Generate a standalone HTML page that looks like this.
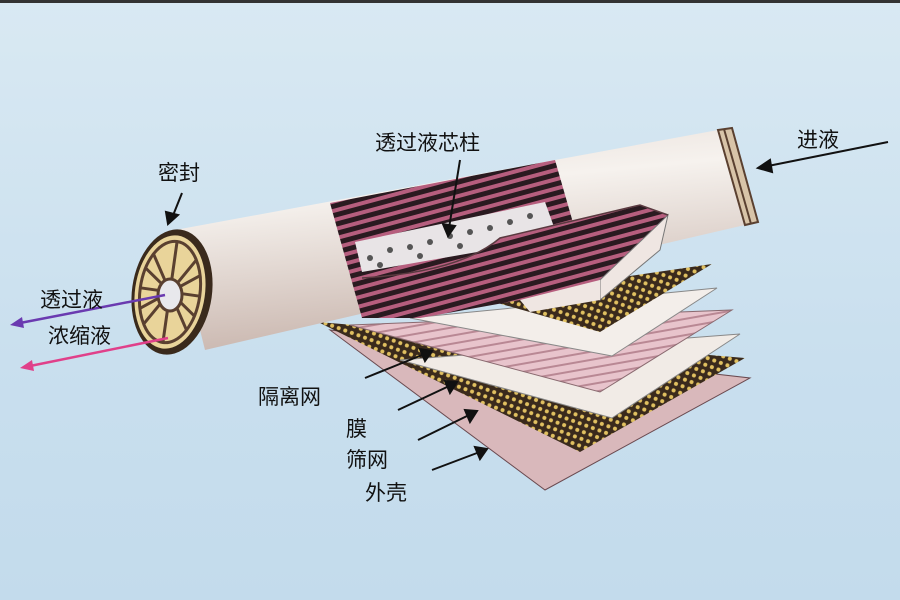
<!DOCTYPE html>
<html><head><meta charset="utf-8"><style>
html,body{margin:0;padding:0}
body{width:900px;height:600px;overflow:hidden;background:linear-gradient(#d9e9f3,#c9dfee 60%,#c3dbec);}
svg{position:absolute;left:0;top:0}
text{font-family:"Liberation Sans","Noto Sans CJK SC",sans-serif;font-size:21px;fill:#111}
</style></head><body>
<svg width="900" height="600" viewBox="0 0 900 600">
<defs>
<pattern id="mesh" width="7" height="7" patternUnits="userSpaceOnUse" patternTransform="rotate(20)">
<rect width="7" height="7" fill="#3a2a1c"/><circle cx="3.5" cy="3.5" r="2" fill="#e0c060"/></pattern>
<pattern id="pstripe" width="8" height="8" patternUnits="userSpaceOnUse" patternTransform="rotate(-10)">
<rect width="8" height="8" fill="#e8c4cc"/><rect width="8" height="2" fill="#b98894"/></pattern>
<pattern id="dstripe" width="9" height="9" patternUnits="userSpaceOnUse" patternTransform="rotate(-15)">
<rect width="9" height="9" fill="#2a1a20"/><rect width="9" height="4" fill="#b65e7e"/></pattern>
<linearGradient id="tube" x1="0" y1="0" x2="0.25" y2="1">
<stop offset="0" stop-color="#e6dcd6"/><stop offset="0.35" stop-color="#f6f2ee"/><stop offset="1" stop-color="#c9b6ae"/></linearGradient>
</defs>
<rect x="0" y="0" width="900" height="3" fill="#333"/>
<!-- sheets -->
<polygon points="330,330 750,378 545,490" fill="#d9b8bb" stroke="#6a4a50" stroke-width="1"/>
<polygon points="318,322 745,358 580,452" fill="url(#mesh)"/>
<polygon points="400,360 740,334 612,418" fill="#f1ebe6" stroke="#888" stroke-width="1"/>
<polygon points="350,325 732,310 600,392" fill="url(#pstripe)" stroke="#8a6a70" stroke-width="1"/>
<polygon points="410,318 717,288 612,356" fill="#f3eeea" stroke="#888" stroke-width="1"/>
<polygon points="480,298 712,264 600,332" fill="url(#mesh)"/>
<!-- cylinder body -->
<polygon points="175,230 718,130 745,225 205,350" fill="url(#tube)"/>
<!-- cut-away -->
<polygon points="330,203 555,160 578,240 362,318" fill="url(#dstripe)"/>
<polygon points="355,242 545,202 558,238 362,272" fill="#e8e4e6"/>
<g fill="#555"><circle cx="370" cy="258" r="3"/><circle cx="390" cy="250" r="3"/><circle cx="410" cy="247" r="3"/><circle cx="430" cy="242" r="3"/><circle cx="450" cy="236" r="3"/><circle cx="470" cy="232" r="3"/><circle cx="490" cy="228" r="3"/><circle cx="510" cy="222" r="3"/><circle cx="530" cy="216" r="3"/><circle cx="380" cy="265" r="3"/><circle cx="420" cy="256" r="3"/><circle cx="460" cy="246" r="3"/></g>
<path d="M362,278 Q460,272 500,238 L640,205 L668,215 L600,280 Q560,298 520,300 L420,318 L362,318 Z" fill="url(#dstripe)"/>
<polygon points="668,215 660,250 600,300 600,280" fill="#efe6e2" stroke="#777" stroke-width="1"/>
<polygon points="520,300 600,280 600,300 530,312" fill="#efe6e2"/>
<path d="M362,278 Q460,272 500,238 L640,205 L668,215" fill="none" stroke="#5a3a40" stroke-width="1.5"/>
<!-- right end -->
<polygon points="718,130 732,128 758,222 745,225" fill="#d8c4a8" stroke="#5a4030" stroke-width="2"/>
<line x1="724" y1="129" x2="751" y2="224" stroke="#5a4030" stroke-width="2"/>
<!-- left end cap -->
<ellipse cx="172" cy="292" rx="40" ry="63" fill="#3a2a1c" transform="rotate(8 172 292)"/>
<ellipse cx="170" cy="292" rx="35" ry="57" fill="#e9d49a" transform="rotate(8 170 292)"/>
<g stroke="#5a4030" stroke-width="3" fill="none" transform="rotate(8 170 292)">
<ellipse cx="170" cy="292" rx="30" ry="51"/>
<path d="M170,241 L170,343 M140,292 L200,292 M148,256 L192,328 M192,256 L148,328 M143,272 L197,312 M143,312 L197,272"/>
</g>
<ellipse cx="170" cy="295" rx="12" ry="16" fill="#e8e8ec" stroke="#5a4030" stroke-width="3"/>
<!-- arrows -->
<g stroke="#111" stroke-width="2" fill="#111">
<line x1="182" y1="193" x2="172" y2="218"/><polygon points="168,224 166,212 178,215"/>
<line x1="460" y1="160" x2="449" y2="228"/><polygon points="448,236 443,224 455,226"/>
<line x1="888" y1="142" x2="768" y2="166"/><polygon points="758,168 770,160 772,172"/>
<line x1="365" y1="378" x2="422" y2="355"/><polygon points="432,351 420,349 425,361"/>
<line x1="398" y1="410" x2="447" y2="387"/><polygon points="457,382 445,381 450,393"/>
<line x1="418" y1="440" x2="467" y2="416"/><polygon points="477,411 465,410 470,422"/>
<line x1="432" y1="470" x2="477" y2="453"/><polygon points="487,449 475,447 480,459"/>
</g>
<line x1="165" y1="295" x2="20" y2="323" stroke="#6a3ab0" stroke-width="2.5"/>
<polygon points="10,325 22,317 24,328" fill="#6a3ab0"/>
<line x1="168" y1="338" x2="30" y2="366" stroke="#e0408a" stroke-width="2.5"/>
<polygon points="20,368 32,360 34,371" fill="#e0408a"/>
<!-- labels -->
<text x="158" y="180">密封</text>
<text x="375" y="150">透过液芯柱</text>
<text x="797" y="147">进液</text>
<text x="40" y="307">透过液</text>
<text x="48" y="343">浓缩液</text>
<text x="258" y="404">隔离网</text>
<text x="346" y="436">膜</text>
<text x="346" y="467">筛网</text>
<text x="365" y="500">外壳</text>
</svg>
</body></html>
